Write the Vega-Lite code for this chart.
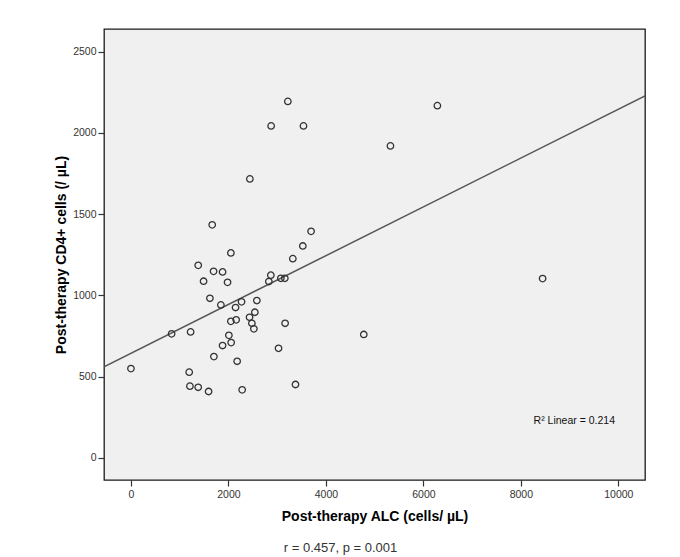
{
  "$schema": "https://vega.github.io/schema/vega-lite/v6.json",
  "width": 541,
  "height": 451,
  "autosize": "none",
  "padding": {"left": 104, "top": 29, "right": 35, "bottom": 77},
  "background": "white",
  "config": {
    "font": "Liberation Sans",
    "view": {"fill": "#f0f0f0", "stroke": "#1a1a1a", "strokeWidth": 1.3}
  },
  "title": {
    "text": "r = 0.457, p = 0.001",
    "orient": "bottom",
    "fontSize": 13,
    "fontWeight": "normal",
    "color": "#333333",
    "dx": -34,
    "offset": 18
  },
  "datasets": {
    "pts": [
      {"x": 3526, "y": 1304}, {"x": 3321, "y": 1226}, {"x": 2050, "y": 1261}, {"x": 1380, "y": 1185},
      {"x": 1695, "y": 1148}, {"x": 1880, "y": 1144}, {"x": 1490, "y": 1087}, {"x": 1982, "y": 1080},
      {"x": 2870, "y": 1124}, {"x": 2829, "y": 1085}, {"x": 3075, "y": 1105}, {"x": 3157, "y": 1105},
      {"x": 1620, "y": 982}, {"x": 1845, "y": 941}, {"x": 2269, "y": 960}, {"x": 2146, "y": 925},
      {"x": 2583, "y": 968}, {"x": 2542, "y": 896}, {"x": 2050, "y": 840}, {"x": 2159, "y": 849},
      {"x": 2433, "y": 865}, {"x": 2481, "y": 828}, {"x": 2522, "y": 794}, {"x": 3163, "y": 828},
      {"x": 834, "y": 763}, {"x": 1224, "y": 775}, {"x": 2009, "y": 754}, {"x": 2056, "y": 709},
      {"x": 1880, "y": 691}, {"x": 3028, "y": 674}, {"x": 1702, "y": 623}, {"x": 2179, "y": 594},
      {"x": 0, "y": 549}, {"x": 1195, "y": 527}, {"x": 1210, "y": 441}, {"x": 1380, "y": 434},
      {"x": 1593, "y": 408}, {"x": 2282, "y": 418}, {"x": 3376, "y": 451}, {"x": 3219, "y": 2194},
      {"x": 2876, "y": 2043}, {"x": 3540, "y": 2043}, {"x": 6287, "y": 2168}, {"x": 5324, "y": 1920},
      {"x": 2440, "y": 1717}, {"x": 1667, "y": 1434}, {"x": 3696, "y": 1394}, {"x": 8446, "y": 1103},
      {"x": 4777, "y": 759}
    ],
    "fit": [{"x": -553, "y": 560}, {"x": 10547, "y": 2228}],
    "ann": [{"x": 9096, "y": 225, "label": "R² Linear = 0.214"}]
  },
  "layer": [
    {
      "data": {"name": "fit"},
      "mark": {"type": "line", "color": "#555555", "strokeWidth": 1.5, "clip": true},
      "encoding": {
        "x": {
          "field": "x", "type": "quantitative",
          "scale": {"domain": [-553, 10547], "nice": false, "zero": false},
          "axis": {
            "values": [0, 2000, 4000, 6000, 8000, 10000], "format": "d",
            "grid": false, "domain": false, "tickSize": 6, "tickColor": "#333333", "tickWidth": 1.2,
            "labelFontSize": 10.5, "labelColor": "#333333", "labelPadding": 3,
            "title": "Post-therapy ALC (cells/ µL)", "titleFontSize": 14, "titleFontWeight": "bold",
            "titleColor": "#000000", "titlePadding": 10
          }
        },
        "y": {
          "field": "y", "type": "quantitative",
          "scale": {"domain": [-137, 2640], "nice": false, "zero": false},
          "axis": {
            "values": [0, 500, 1000, 1500, 2000, 2500], "format": "d",
            "grid": false, "domain": false, "tickSize": 6, "tickColor": "#333333", "tickWidth": 1.2,
            "labelFontSize": 10.5, "labelColor": "#333333", "labelPadding": 2,
            "title": "Post-therapy CD4+ cells (/ µL)", "titleFontSize": 14, "titleFontWeight": "bold",
            "titleColor": "#000000", "titlePadding": 4
          }
        }
      }
    },
    {
      "data": {"name": "pts"},
      "mark": {"type": "point", "shape": "circle", "filled": false, "size": 42, "stroke": "#333333", "strokeWidth": 1.3, "opacity": 1},
      "encoding": {
        "x": {"field": "x", "type": "quantitative"},
        "y": {"field": "y", "type": "quantitative"}
      }
    },
    {
      "data": {"name": "ann"},
      "mark": {"type": "text", "fontSize": 10.5, "color": "#111111", "align": "center", "baseline": "middle"},
      "encoding": {
        "x": {"field": "x", "type": "quantitative"},
        "y": {"field": "y", "type": "quantitative"},
        "text": {"field": "label"}
      }
    }
  ]
}
